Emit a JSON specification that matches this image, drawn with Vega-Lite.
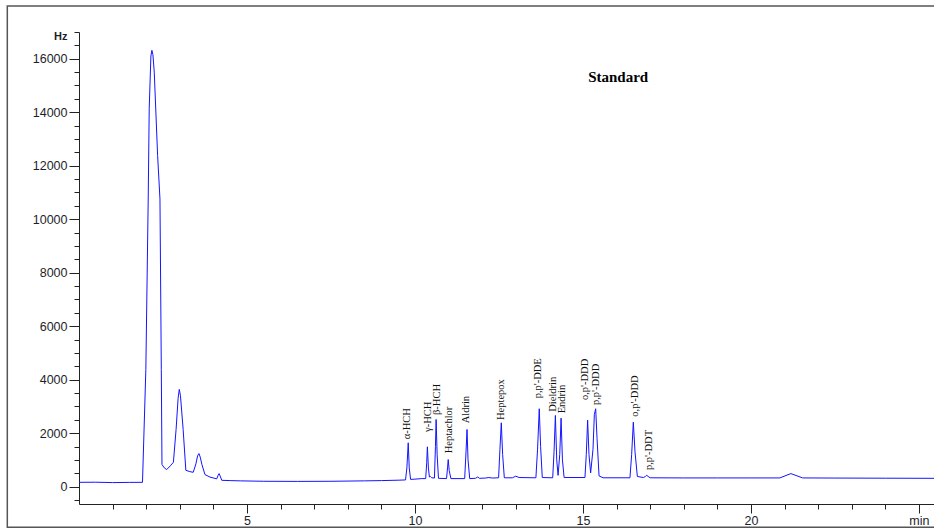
{
  "$schema": "https://vega.github.io/schema/vega-lite/v6.json",
  "autosize": "none",
  "padding": {"left": 79, "top": 32, "right": 0, "bottom": 26},
  "width": 855,
  "height": 472,
  "background": "white",
  "config": {"view": {"stroke": null}},
  "datasets": {
    "trace": [
      {"t": 0, "hz": 160}, {"t": 0.5, "hz": 165}, {"t": 1.0, "hz": 150}, {"t": 1.5, "hz": 158}, {"t": 1.89, "hz": 160},
      {"t": 1.99, "hz": 4385}, {"t": 2.06, "hz": 10757}, {"t": 2.09, "hz": 14130}, {"t": 2.14, "hz": 16100}, {"t": 2.17, "hz": 16315},
      {"t": 2.2, "hz": 16150}, {"t": 2.24, "hz": 15500}, {"t": 2.34, "hz": 12380}, {"t": 2.41, "hz": 10757}, {"t": 2.45, "hz": 4385},
      {"t": 2.47, "hz": 825}, {"t": 2.54, "hz": 700}, {"t": 2.61, "hz": 637}, {"t": 2.72, "hz": 780}, {"t": 2.81, "hz": 910},
      {"t": 2.89, "hz": 2136}, {"t": 2.95, "hz": 3300}, {"t": 2.985, "hz": 3636}, {"t": 3.02, "hz": 3400}, {"t": 3.1, "hz": 2136},
      {"t": 3.18, "hz": 611}, {"t": 3.3, "hz": 560}, {"t": 3.4, "hz": 536}, {"t": 3.48, "hz": 850}, {"t": 3.53, "hz": 1150},
      {"t": 3.57, "hz": 1237}, {"t": 3.61, "hz": 1100}, {"t": 3.66, "hz": 820}, {"t": 3.75, "hz": 450}, {"t": 3.9, "hz": 356},
      {"t": 4.1, "hz": 289}, {"t": 4.14, "hz": 420}, {"t": 4.17, "hz": 487}, {"t": 4.2, "hz": 400}, {"t": 4.25, "hz": 236},
      {"t": 4.5, "hz": 225}, {"t": 4.8, "hz": 215}, {"t": 5.5, "hz": 200}, {"t": 6.5, "hz": 195}, {"t": 7.5, "hz": 200},
      {"t": 8.5, "hz": 215}, {"t": 9.0, "hz": 225}, {"t": 9.5, "hz": 240}, {"t": 9.72, "hz": 250}, {"t": 9.76, "hz": 700},
      {"t": 9.8, "hz": 1638}, {"t": 9.83, "hz": 700}, {"t": 9.87, "hz": 270}, {"t": 10.0, "hz": 280}, {"t": 10.2, "hz": 300},
      {"t": 10.32, "hz": 300}, {"t": 10.35, "hz": 900}, {"t": 10.37, "hz": 1488}, {"t": 10.4, "hz": 700}, {"t": 10.43, "hz": 360},
      {"t": 10.46, "hz": 380}, {"t": 10.5, "hz": 330}, {"t": 10.58, "hz": 320}, {"t": 10.61, "hz": 1500}, {"t": 10.63, "hz": 2511},
      {"t": 10.66, "hz": 1200}, {"t": 10.7, "hz": 310}, {"t": 10.94, "hz": 300}, {"t": 10.97, "hz": 700}, {"t": 10.99, "hz": 1012},
      {"t": 11.02, "hz": 600}, {"t": 11.07, "hz": 300}, {"t": 11.48, "hz": 300}, {"t": 11.52, "hz": 1300}, {"t": 11.55, "hz": 2136},
      {"t": 11.58, "hz": 1000}, {"t": 11.63, "hz": 300}, {"t": 11.8, "hz": 310}, {"t": 11.87, "hz": 360}, {"t": 11.92, "hz": 310},
      {"t": 12.1, "hz": 320}, {"t": 12.2, "hz": 340}, {"t": 12.3, "hz": 320}, {"t": 12.49, "hz": 330}, {"t": 12.53, "hz": 1400},
      {"t": 12.57, "hz": 2387}, {"t": 12.61, "hz": 1200}, {"t": 12.66, "hz": 330}, {"t": 12.9, "hz": 330}, {"t": 13.0, "hz": 390},
      {"t": 13.1, "hz": 340}, {"t": 13.6, "hz": 330}, {"t": 13.65, "hz": 1400}, {"t": 13.7, "hz": 2912}, {"t": 13.74, "hz": 1500},
      {"t": 13.79, "hz": 340}, {"t": 14.1, "hz": 330}, {"t": 14.14, "hz": 1300}, {"t": 14.18, "hz": 2661}, {"t": 14.22, "hz": 1000},
      {"t": 14.26, "hz": 420}, {"t": 14.31, "hz": 1200}, {"t": 14.35, "hz": 2560}, {"t": 14.39, "hz": 1000}, {"t": 14.44, "hz": 340},
      {"t": 15.06, "hz": 340}, {"t": 15.1, "hz": 1200}, {"t": 15.14, "hz": 2485}, {"t": 15.18, "hz": 1200}, {"t": 15.23, "hz": 513},
      {"t": 15.3, "hz": 1400}, {"t": 15.34, "hz": 2700}, {"t": 15.38, "hz": 2912}, {"t": 15.42, "hz": 1800}, {"t": 15.48, "hz": 400},
      {"t": 15.6, "hz": 330}, {"t": 16.4, "hz": 330}, {"t": 16.45, "hz": 1200}, {"t": 16.5, "hz": 2410}, {"t": 16.55, "hz": 1300},
      {"t": 16.62, "hz": 380}, {"t": 16.8, "hz": 340}, {"t": 16.86, "hz": 380}, {"t": 16.9, "hz": 424}, {"t": 16.94, "hz": 380},
      {"t": 17.0, "hz": 330}, {"t": 18, "hz": 325}, {"t": 19, "hz": 325}, {"t": 20, "hz": 325}, {"t": 20.86, "hz": 325},
      {"t": 21.19, "hz": 487}, {"t": 21.54, "hz": 325}, {"t": 22.5, "hz": 320}, {"t": 24, "hz": 315}, {"t": 25.45, "hz": 310}
    ],
    "peaks": [
      {"name": "α-HCH", "t": 9.76, "hz": 1769},
      {"name": "γ-HCH", "t": 10.38, "hz": 2042},
      {"name": "β-HCH", "t": 10.66, "hz": 2677},
      {"name": "Heptachlor", "t": 11.02, "hz": 1245},
      {"name": "Aldrin", "t": 11.52, "hz": 2367},
      {"name": "Heptepox", "t": 12.56, "hz": 2490},
      {"name": "p,p'-DDE", "t": 13.67, "hz": 3302},
      {"name": "Dieldrin", "t": 14.12, "hz": 2801},
      {"name": "Endrin", "t": 14.37, "hz": 2741},
      {"name": "o,p'-DDD", "t": 15.06, "hz": 3238},
      {"name": "p,p'-DDD", "t": 15.39, "hz": 3051},
      {"name": "o,p'-DDD", "t": 16.55, "hz": 2614},
      {"name": "p,p'-DDT", "t": 16.96, "hz": 621}
    ],
    "heading": [
      {"name": "Standard", "t": 16.05, "hz": 15317}
    ],
    "frame": [
      {"part": "border"}
    ]
  },
  "resolve": {"axis": {"x": "independent", "y": "independent"}},
  "layer": [
    {
      "data": {"name": "frame"},
      "mark": {"type": "rect", "fillOpacity": 0, "stroke": "#555555", "strokeWidth": 1.5, "clip": false},
      "encoding": {
        "x": {"datum": -2.134, "type": "quantitative", "scale": {"domain": [0, 25.45], "nice": false, "zero": false}, "axis": null},
        "x2": {"datum": 27},
        "y": {"datum": 17972, "type": "quantitative", "scale": {"domain": [-650, 17000], "nice": false, "zero": false}, "axis": null},
        "y2": {"datum": -1521}
      }
    },
    {
      "data": {"name": "trace"},
      "mark": {"type": "line", "color": "#1414ff", "strokeWidth": 1, "interpolate": "linear"},
      "encoding": {
        "x": {
          "field": "t", "type": "quantitative",
          "scale": {"domain": [0, 25.45], "nice": false, "zero": false},
          "axis": {
            "title": null, "grid": false, "orient": "bottom",
            "values": [5, 10, 15, 20, 25],
            "labelExpr": "datum.value == 25 ? 'min' : datum.label",
            "tickSize": 9, "labelPadding": 1, "labelFlush": false,
            "domainColor": "#222222", "tickColor": "#222222",
            "labelColor": "#1e1e2a", "labelFont": "Liberation Sans", "labelFontSize": 12.5
          }
        },
        "y": {
          "field": "hz", "type": "quantitative",
          "scale": {"domain": [-650, 17000], "nice": false, "zero": false},
          "axis": {
            "title": null, "grid": false, "orient": "left",
            "values": [0, 2000, 4000, 6000, 8000, 10000, 12000, 14000, 16000],
            "format": "d",
            "tickSize": 10, "labelPadding": 2, "labelFlush": false,
            "domainColor": "#222222", "tickColor": "#222222",
            "labelColor": "#1e1e2a", "labelFont": "Liberation Sans", "labelFontSize": 12.5
          }
        }
      }
    },
    {
      "data": {"name": "peaks"},
      "mark": {"type": "text", "angle": 270, "align": "left", "baseline": "middle", "font": "Liberation Serif", "fontSize": 10.5, "color": "#111111"},
      "encoding": {
        "x": {
          "field": "t", "type": "quantitative",
          "scale": {"domain": [0, 25.45], "nice": false, "zero": false},
          "axis": {
            "title": null, "grid": false, "orient": "bottom", "domain": false, "labels": false,
            "values": [1, 2, 3, 4, 6, 7, 8, 9, 11, 12, 13, 14, 16, 17, 18, 19, 21, 22, 23, 24],
            "tickSize": 5, "tickColor": "#222222"
          }
        },
        "y": {
          "field": "hz", "type": "quantitative",
          "scale": {"domain": [-650, 17000], "nice": false, "zero": false},
          "axis": {
            "title": null, "grid": false, "orient": "left", "domain": false,
            "values": [-500, 500, 1000, 1500, 2500, 3000, 3500, 4500, 5000, 5500, 6500, 7000, 7500, 8500, 9000, 9500, 10500, 11000, 11500, 12500, 13000, 13500, 14500, 15000, 15500, 16500, 17000],
            "labelExpr": "datum.value == 17000 ? 'Hz' : ''",
            "labelOverlap": false, "labelFlush": false,
            "tickSize": 5, "tickColor": "#222222", "labelPadding": 7, "labelOffset": 4,
            "labelColor": "#1e1e2a", "labelFont": "Liberation Sans", "labelFontSize": 11, "labelFontWeight": "bold"
          }
        },
        "text": {"field": "name"}
      }
    },
    {
      "data": {"name": "heading"},
      "mark": {"type": "text", "align": "center", "baseline": "middle", "font": "Liberation Serif", "fontSize": 15, "fontWeight": "bold", "color": "#000000"},
      "encoding": {
        "x": {"field": "t", "type": "quantitative", "scale": {"domain": [0, 25.45], "nice": false, "zero": false}, "axis": null},
        "y": {"field": "hz", "type": "quantitative", "scale": {"domain": [-650, 17000], "nice": false, "zero": false}, "axis": null},
        "text": {"field": "name"}
      }
    }
  ]
}
